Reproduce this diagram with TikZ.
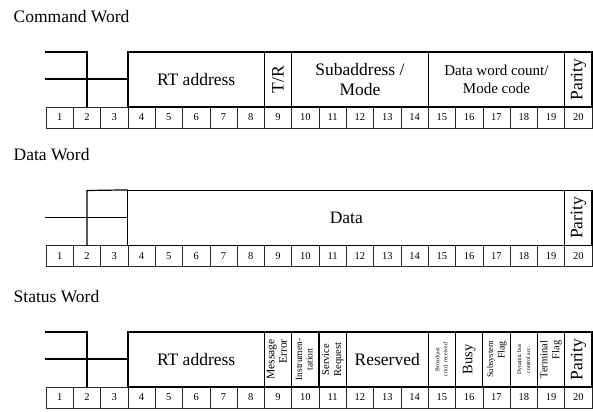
\documentclass[tikz,border=0pt]{standalone}
\usepackage{fontspec}
\setmainfont{Liberation Serif}
\newcommand\fs[2]{\fontsize{#1bp}{#2bp}\selectfont}
\newcommand\rot[1]{\rotatebox{90}{#1}}
\newcommand\twol[3]{\rotatebox{90}{\begin{tabular}{@{}#1@{}}#2\\#3\end{tabular}}}
\begin{document}
\begin{tikzpicture}[x=1bp,y=-1bp,
  sig/.style={line width=1.2bp, line cap=rect},
  numcell/.style={draw=black!85, line width=0.5bp, minimum width=27.3bp, minimum height=21bp, inner sep=0pt, font=\fs{10.5}{12}},
  fieldbox/.style={draw, line width=1.2bp, inner sep=0pt, minimum height=55bp, align=center, font=\fs{17.5}{20}},
  title/.style={anchor=base west, inner sep=0pt, font=\fs{17.5}{20}}
]
\useasboundingbox (0,0) rectangle (593,411);
% field macro: name, first bit, last bit, options, text
\newcommand\field[5]{%
  \pgfmathsetmacro\fx{46+((#2-1)+#3)/2*27.3}%
  \pgfmathsetmacro\fw{(#3-#2+1)*27.3}%
  \node[fieldbox, minimum width=\fw bp, #4] (#1) at (\fx,27.5) {#5};}
\newcommand\numrow[1]{%
  \foreach \i in {1,...,20}{%
    \pgfmathsetmacro\nx{46+(\i-0.5)*27.3}%
    \node[numcell] (#1n\i) at (\nx,65.5) {\i};}}

% ---------- titles
\node[title] (tcmd) at (13.5,22.7) {Command Word};
\node[title] (tdat) at (13.5,160) {Data Word};
\node[title] (tsta) at (13.5,302.7) {Status Word};

% ---------- Command word
\begin{scope}[shift={(0,52)}]
  \numrow{c}
  \coordinate (cs1) at (46,0);
  \coordinate (cs2) at (86.95,0);
  \coordinate (cs3) at (46,27);
  \field{crt}{4}{8}{}{RT address}
  \field{ctr}{9}{9}{}{\rot{T/R}}
  \field{csa}{10}{14}{}{Subaddress /\\Mode}
  \field{cwc}{15}{19}{font=\fs{15}{18}}{Data word count/\\Mode code}
  \field{cpa}{20}{20}{}{\rot{Parity}}
  \draw[sig] (cs1) -- (cs2) -- (cs2 |- cn2.north);
  \draw[sig] (cs3) -- (cs3 -| crt.west);
\end{scope}

% ---------- Data word
\begin{scope}[shift={(0,190.5)}]
  \numrow{d}
  \coordinate (ds2) at (86.95,0);
  \coordinate (ds3) at (46,27);
  \field{ddata}{4}{19}{}{Data}
  \field{dpa}{20}{20}{}{\rot{Parity}}
  \draw[sig] (ds2 |- dn2.north) -- (ds2) -- (ddata.north west);
  \draw[sig] (ds3) -- (ds3 -| ddata.west);
\end{scope}

% ---------- Status word
\begin{scope}[shift={(0,332)}]
  \numrow{s}
  \coordinate (ss1) at (46,0);
  \coordinate (ss2) at (86.95,0);
  \coordinate (ss3) at (46,27);
  \field{srt}{4}{8}{}{RT address}
  \field{sme}{9}{9}{font=\fs{11.5}{12.5}}{\twol{r}{Message}{Error}}
  \field{sin}{10}{10}{font=\fs{9.5}{10.5}}{\twol{c}{Instrumen-}{tation}}
  \field{ssr}{11}{11}{font=\fs{10.5}{12}}{\twol{c}{Service}{Request}}
  \field{sre}{12}{14}{}{Reserved}
  \field{sbc}{15}{15}{font=\fs{5.8}{8}}{\twol{c}{Broadcast}{cmd. received}}
  \field{sbu}{16}{16}{font=\fs{14.5}{17}}{\rot{Busy}}
  \field{ssf}{17}{17}{font=\fs{10}{11.5}}{\twol{r}{\fs{8.5}{11.5}Subsystem}{Flag}}
  \field{sdb}{18}{18}{font=\fs{5.8}{9}}{\twol{c}{Dynamic bus}{control acc.}}
  \field{stf}{19}{19}{font=\fs{10.5}{12}}{\twol{r}{Terminal}{Flag}}
  \field{spa}{20}{20}{}{\rot{Parity}}
  \draw[sig] (ss1) -- (ss2) -- (ss2 |- sn2.north);
  \draw[sig] (ss3) -- (ss3 -| srt.west);
\end{scope}
\end{tikzpicture}
\end{document}
